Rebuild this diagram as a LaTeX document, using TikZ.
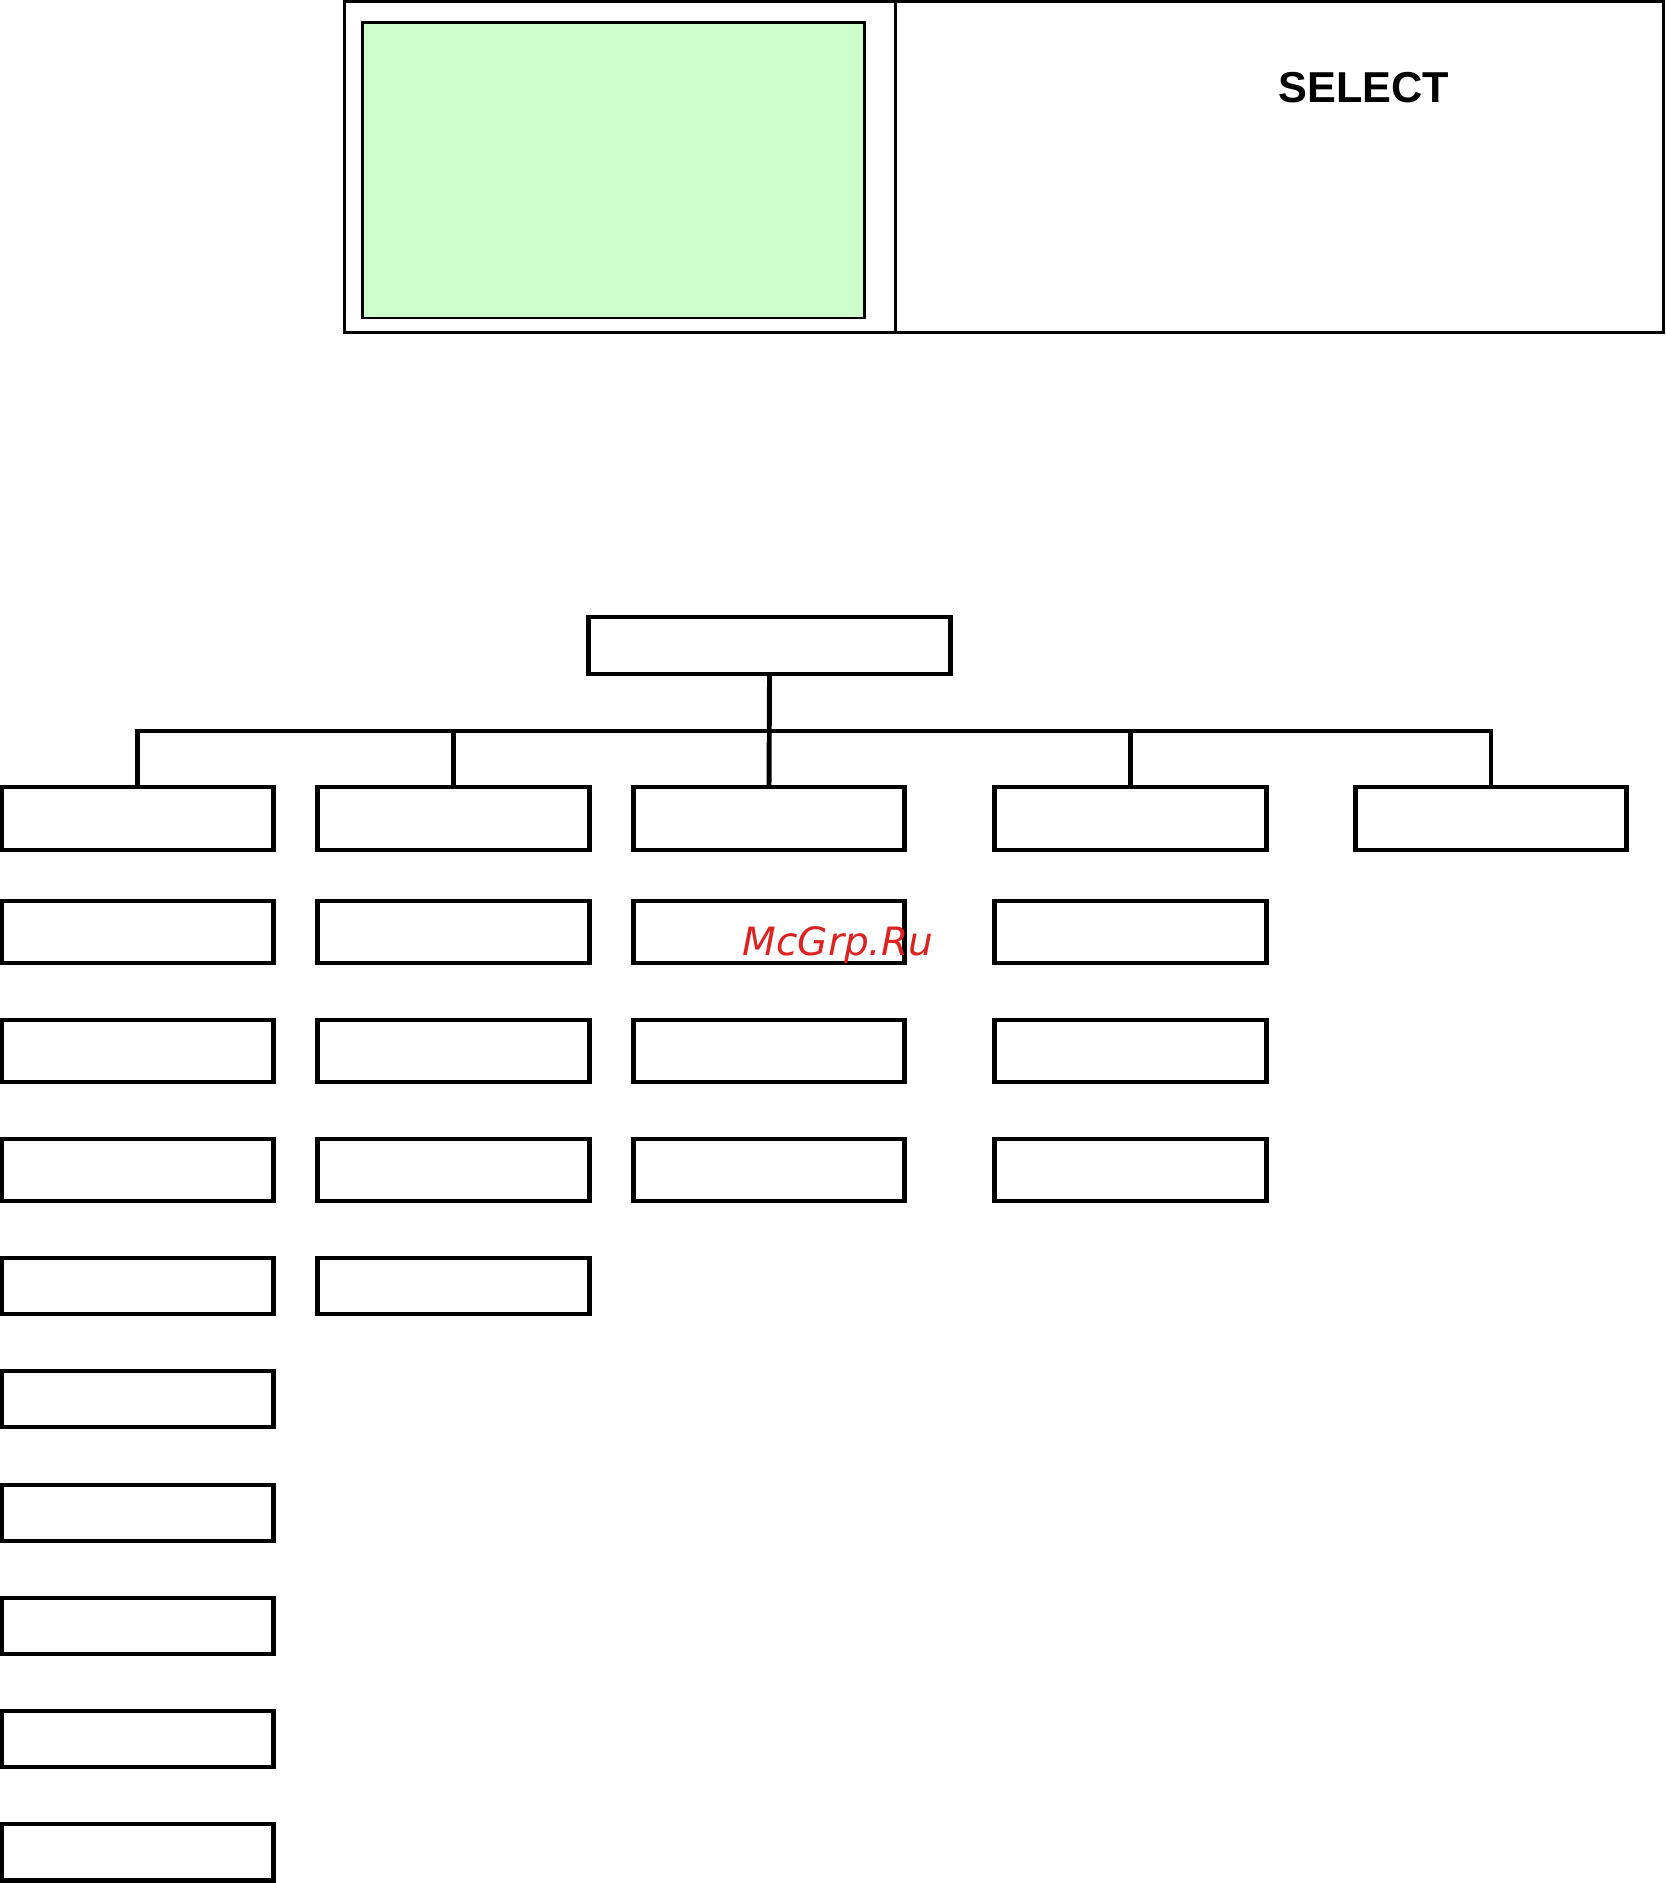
\documentclass[tikz,border=0pt]{standalone}
\usepackage{fontspec}
\newfontfamily\arialfont{Liberation Sans}
\newfontfamily\dvfont{DejaVu Sans}
\definecolor{lcdgreen}{HTML}{CCFFCC}
\definecolor{wmred}{HTML}{DD2222}
\begin{document}
\begin{tikzpicture}[x=0.01cm,y=-0.01cm,
  tbox/.style={draw, line width=1.4pt, minimum width=2.71cm, inner sep=0pt, outer sep=0pt},
  conn/.style={line width=1.4pt},
  thin frame/.style={draw, line width=0.8pt, inner sep=0pt, outer sep=0pt}]
\useasboundingbox (0,0) rectangle (1665,1883);
% top panel
\node[thin frame, minimum width=13.18cm, minimum height=3.31cm] (panel) at (1004,167) {};
\draw[line width=0.85pt] (895,1.5) -- (895,332.5);
\node[thin frame, fill=lcdgreen, minimum width=5.01cm, minimum height=2.95cm] (lcd) at (613.5,170.5) {};
\node[font=\arialfont\bfseries\fontsize{12.3}{14}\selectfont, inner sep=0pt] (sel) at (1364,88) {SELECT};
% root
\node[tbox, minimum width=3.61cm, minimum height=0.57cm] (root) at (769.5,645.5) {};
% rows
\foreach \r/\y/\h in {1/818.5/0.63, 2/932/0.62, 3/1051/0.62, 4/1170/0.62, 5/1286/0.56,
                      6/1399/0.56, 7/1513/0.56, 8/1626/0.56, 9/1739/0.56, 10/1852/0.56} {
  \node[tbox, minimum height=\h cm] (c1r\r) at (137.5,\y) {};
}
\foreach \r/\y/\h in {1/818.5/0.63, 2/932/0.62, 3/1051/0.62, 4/1170/0.62, 5/1286/0.56} {
  \node[tbox, minimum height=\h cm] (c2r\r) at (453.5,\y) {};
}
\foreach \r/\y/\h in {1/818.5/0.63, 2/932/0.62, 3/1051/0.62, 4/1170/0.62} {
  \node[tbox, minimum height=\h cm] (c3r\r) at (769,\y) {};
  \node[tbox, minimum height=\h cm] (c4r\r) at (1130.5,\y) {};
}
\node[tbox, minimum height=0.63cm] (c5r1) at (1491,818.5) {};
% connectors
\coordinate (busL) at (137.5,731);
\coordinate (busR) at (1491,731);
\draw[conn] (root.south) -- (c3r1.north);
\draw[conn, line cap=rect] (busL) -- (busR);
\draw[conn] (c1r1.north) -- (c1r1.north |- busL);
\draw[conn] (c2r1.north) -- (c2r1.north |- busL);
\draw[conn] (c4r1.north) -- (c4r1.north |- busL);
\draw[conn] (c5r1.north) -- (c5r1.north |- busL);
% watermark
\node[font=\dvfont\itshape\fontsize{11.1}{13}\selectfont, text=wmred, anchor=base west, inner sep=0pt] (wm) at (742,955) {McGrp.Ru};
\end{tikzpicture}
\end{document}
